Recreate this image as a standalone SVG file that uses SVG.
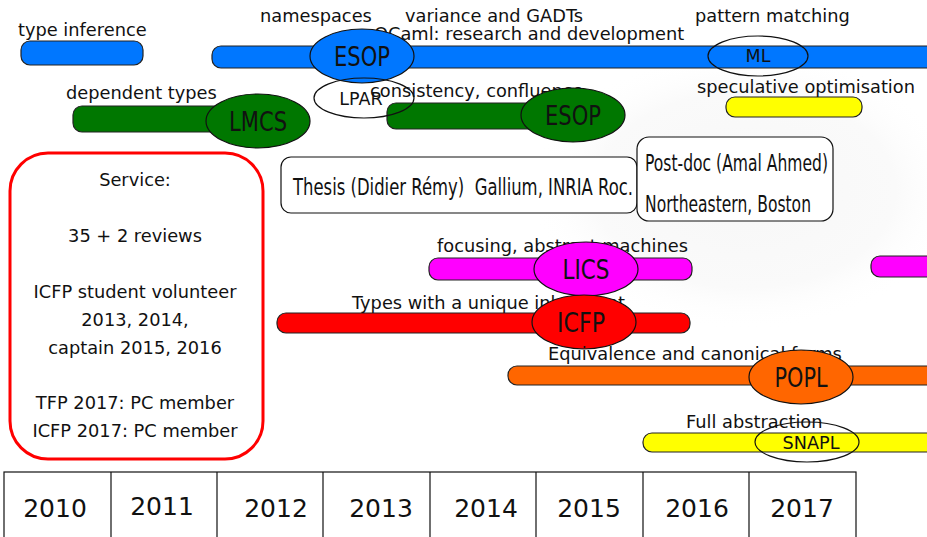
<svg xmlns="http://www.w3.org/2000/svg" width="927" height="537" viewBox="0 0 927 537">
<defs>
<radialGradient id="glow">
<stop offset="0" stop-color="#f7f7f7"/>
<stop offset="0.7" stop-color="#fafafa"/>
<stop offset="1" stop-color="#ffffff" stop-opacity="0"/>
</radialGradient>
</defs>
<style>
text{font-family:"DejaVu Sans","Liberation Sans",sans-serif;fill:#111}
.lbl{font-size:17.8px}
.cond{font-size:23px}
.bar{stroke:#222;stroke-width:1.2}
.ell{stroke:#111;stroke-width:1.2}
.big{font-size:26px;text-anchor:middle}
.small{font-size:17.5px;text-anchor:middle}
.blue{fill:#0077ff}.green{fill:#007700}.yellow{fill:#ffff00}.mag{fill:#ff00ff}.red{fill:#ff0000}.orange{fill:#ff6600}
.svc{font-size:17.8px;text-anchor:middle}
.yr{font-size:25px;text-anchor:middle}
</style>
<rect width="927" height="537" fill="#fff"/>
<ellipse cx="745" cy="190" rx="215" ry="140" fill="url(#glow)"/>
<g id="type-inference">
<rect class="bar blue" x="21" y="41" width="122" height="24" rx="9"/>
<text class="lbl" x="18" y="36">type inference</text>
</g>
<g id="ocaml">
<rect class="bar blue" x="212" y="46" width="730" height="22" rx="9"/>
<text class="lbl" x="374" y="40">OCaml: research and development</text>
<text class="lbl" x="260" y="22">namespaces</text>
<text class="lbl" x="405" y="22">variance and GADTs</text>
<text class="lbl" x="695" y="22">pattern matching</text>
</g>
<g id="esop1">
<ellipse class="ell blue" cx="362" cy="56" rx="52" ry="27"/>
<text class="big" x="362" y="66" textLength="56" lengthAdjust="spacingAndGlyphs">ESOP</text>
</g>
<g id="ml">
<ellipse class="ell" fill="none" cx="758" cy="56" rx="50" ry="20"/>
<text class="small" x="758" y="62">ML</text>
</g>
<g id="dependent-types">
<rect class="bar green" x="73" y="106" width="160" height="26" rx="9"/>
<text class="lbl" x="66" y="99">dependent types</text>
</g>
<g id="lmcs">
<ellipse class="ell green" cx="258" cy="121" rx="52" ry="27"/>
<text class="big" x="258" y="131" textLength="58" lengthAdjust="spacingAndGlyphs">LMCS</text>
</g>
<g id="consistency">
<rect class="bar green" x="387" y="103" width="160" height="26" rx="9"/>
<text class="lbl" x="370" y="97">consistency, confluence</text>
</g>
<g id="lpar">
<ellipse class="ell" fill="none" cx="364" cy="98" rx="50" ry="20"/>
<text class="small" x="361" y="105">LPAR</text>
</g>
<g id="esop2">
<ellipse class="ell green" cx="573" cy="115" rx="52" ry="27"/>
<text class="big" x="573" y="125" textLength="56" lengthAdjust="spacingAndGlyphs">ESOP</text>
</g>
<g id="speculative">
<rect class="bar yellow" x="726" y="97" width="136" height="20" rx="9"/>
<text class="lbl" x="697" y="93">speculative optimisation</text>
</g>
<g id="thesis">
<rect x="281" y="157" width="356" height="56" rx="10" fill="#fff" stroke="#111" stroke-width="1.2"/>
<text class="cond" x="293" y="195" textLength="340" lengthAdjust="spacingAndGlyphs" xml:space="preserve">Thesis (Didier Rémy)  Gallium, INRIA Roc.</text>
</g>
<g id="postdoc">
<rect x="637" y="137" width="196" height="84" rx="12" fill="#fff" stroke="#111" stroke-width="1.2"/>
<text class="cond" x="645" y="171" textLength="183" lengthAdjust="spacingAndGlyphs">Post-doc (Amal Ahmed)</text>
<text class="cond" x="645" y="212" textLength="166" lengthAdjust="spacingAndGlyphs">Northeastern, Boston</text>
</g>
<g id="focusing">
<rect class="bar mag" x="429" y="258" width="263" height="22" rx="9"/>
<text class="lbl" x="437" y="252">focusing, abstract machines</text>
</g>
<g id="lics">
<ellipse class="ell mag" cx="586" cy="269" rx="52" ry="27"/>
<text class="big" x="586" y="279" textLength="47" lengthAdjust="spacingAndGlyphs">LICS</text>
</g>
<g id="magenta-right">
<rect class="bar mag" x="871" y="256" width="80" height="21" rx="9"/>
</g>
<g id="unique">
<rect class="bar red" x="277" y="313" width="413" height="20" rx="9"/>
<text class="lbl" x="352" y="309">Types with a unique inhabitant</text>
</g>
<g id="icfp">
<ellipse class="ell red" cx="584" cy="322" rx="52" ry="27"/>
<text class="big" x="581" y="332" textLength="48" lengthAdjust="spacingAndGlyphs">ICFP</text>
</g>
<g id="equivalence">
<rect class="bar orange" x="508" y="366" width="440" height="19" rx="9"/>
<text class="lbl" x="548" y="360">Equivalence and canonical forms</text>
</g>
<g id="popl">
<ellipse class="ell orange" cx="801" cy="377" rx="52" ry="27"/>
<text class="big" x="801" y="387" textLength="53" lengthAdjust="spacingAndGlyphs">POPL</text>
</g>
<g id="full-abstraction">
<rect class="bar yellow" x="643" y="433" width="300" height="19" rx="9"/>
<text class="lbl" x="686" y="428">Full abstraction</text>
</g>
<g id="snapl">
<ellipse class="ell" fill="none" cx="807" cy="442" rx="52" ry="20"/>
<text class="small" x="811" y="449" font-size="19" textLength="57" lengthAdjust="spacingAndGlyphs">SNAPL</text>
</g>
<g id="service">
<rect x="10" y="153" width="253" height="306" rx="38" fill="#fff" stroke="#ff0000" stroke-width="3"/>
<text class="svc" x="135" y="186">Service:</text>
<text class="svc" x="135" y="242">35 + 2 reviews</text>
<text class="svc" x="135" y="298">ICFP student volunteer</text>
<text class="svc" x="135" y="326">2013, 2014,</text>
<text class="svc" x="135" y="354">captain 2015, 2016</text>
<text class="svc" x="135" y="409">TFP 2017: PC member</text>
<text class="svc" x="135" y="437">ICFP 2017: PC member</text>
</g>
<g id="years">
<rect x="4" y="472" width="852" height="80" fill="#fff" stroke="#111" stroke-width="1.2"/>
<path d="M111 472V540M217 472V540M323 472V540M430 472V540M536 472V540M643 472V540M749 472V540" stroke="#111" stroke-width="1.2"/>
<text class="yr" x="55" y="517">2010</text>
<text class="yr" x="162" y="515">2011</text>
<text class="yr" x="276" y="517">2012</text>
<text class="yr" x="381" y="517">2013</text>
<text class="yr" x="486" y="517">2014</text>
<text class="yr" x="589" y="517">2015</text>
<text class="yr" x="697" y="517">2016</text>
<text class="yr" x="802" y="517">2017</text>
</g>
<g id="connectors"></g>
</svg>
